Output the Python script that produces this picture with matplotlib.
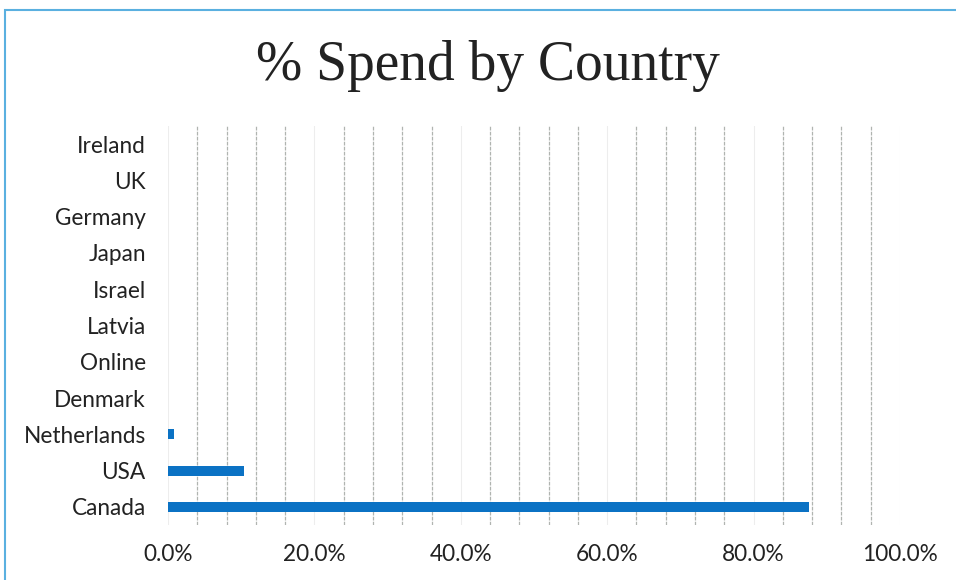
import numpy as np
import matplotlib.pyplot as plt
from matplotlib.patches import Rectangle


# Data (bottom to top)
countries = ['Canada', 'USA', 'Netherlands', 'Denmark', 'Online',
             'Latvia', 'Israel', 'Japan', 'Germany', 'UK', 'Ireland']
spend = [87.6, 10.4, 0.8, 0, 0, 0, 0, 0, 0, 0, 0]
tick_vals = [0, 20, 40, 60, 80, 100]
tick_labels = ['0.0%', '20.0%', '40.0%', '60.0%', '80.0%', '100.0%']


fig = plt.figure(figsize=(9.56, 5.8), dpi=100)
ax = fig.add_axes([168/956, 1 - 525/580, 732/956, (525 - 126)/580])

y = np.arange(len(countries))
ax.barh(y, spend, height=0.28, color='#0B72C4', zorder=3)

ax.set_xlim(0, 100)
ax.set_ylim(-0.5, len(countries) - 0.5)
ax.set_yticks(y)
ax.set_yticklabels(countries, fontsize=16.3, family='Lato', color='#222222')
ax.set_xticks(tick_vals)
ax.set_xticklabels(tick_labels, fontsize=16.3, family='Lato', color='#222222')
ax.tick_params(length=0)
ax.tick_params(axis='x', pad=14)
ax.tick_params(axis='y', pad=16)

# minor gridlines every 4% are the visible ones, major 20% lines are faint
for v in np.arange(4, 100, 4):
    if v % 20 == 0:
        ax.axvline(v, color='#EDEDED', lw=0.8, zorder=1)
    else:
        ax.axvline(v, color='#B0B4B0', lw=0.9, ls=(0, (3, 1)), zorder=1)
ax.axvline(0, color='#EDEDED', lw=0.8, zorder=1)
ax.axvline(100, color='#EDEDED', lw=0.8, zorder=1)

for s in ax.spines.values():
    s.set_visible(False)

fig.text(488/956, 1 - 66/580, '% Spend by Country', ha='center', va='center',
         fontsize=40, family='Liberation Serif', color='#222222')

# chart border (only top and left visible in the scan)
fig.patches.append(Rectangle((5/956, -0.1), 1.2, 1 - 10/580 + 0.1,
                             transform=fig.transFigure, fill=False,
                             edgecolor='#5AB0E0', lw=1.5))

fig.savefig('out.png', dpi=100, facecolor='white')
